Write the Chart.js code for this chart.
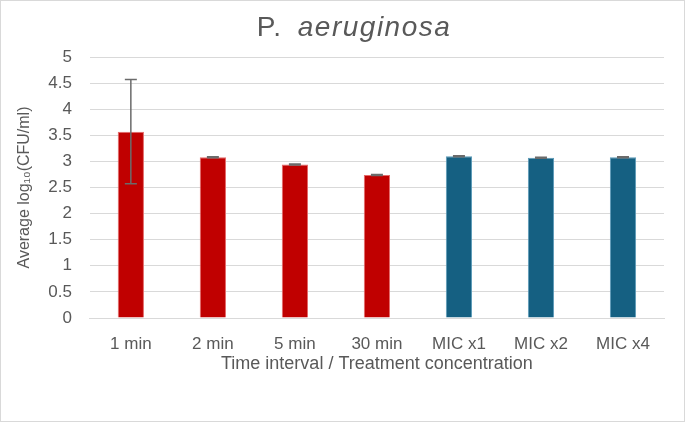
<!DOCTYPE html>
<html>
<head>
<meta charset="utf-8">
<script src="https://cdn.jsdelivr.net/npm/chart.js@4.4.1/dist/chart.umd.min.js"></script>
<style>
    html, body { margin: 0; padding: 0; background: #fff; }
    #wrap {
        width: 685px; height: 422px;
        box-sizing: border-box;
        border: 1px solid #d9d9d9;
        position: relative;
    }
</style>
</head>
<body>
<div id="wrap"><canvas id="chart"></canvas></div>
<script>
// Values
const categories = ['1 min', '2 min', '5 min', '30 min', 'MIC x1', 'MIC x2', 'MIC x4'];
const meanLog = [3.57, 3.08, 2.94, 2.74, 3.10, 3.07, 3.08];
const errLog = [1.0, 0.01, 0.01, 0.01, 0.01, 0.01, 0.01];
const barColors = ['#c00000', '#c00000', '#c00000', '#c00000', '#156082', '#156082', '#156082'];
const barEdges = ['#e46a6a', '#e46a6a', '#e46a6a', '#e46a6a', '#5b9ab8', '#5b9ab8', '#5b9ab8'];

const textColor = '#595959';

// Draw error bars with caps from the errLog array
const errorBarPlugin = {
    id: 'errorBars',
    afterDatasetsDraw: function (chart) {
        const ctx = chart.ctx;
        const meta = chart.getDatasetMeta(0);
        const yScale = chart.scales.y;
        ctx.save();
        ctx.strokeStyle = '#6b6b6b';
        ctx.lineWidth = 1.5;
        meta.data.forEach(function (bar, i) {
            const x = bar.x;
            const top = yScale.getPixelForValue(meanLog[i] + errLog[i]);
            const bottom = yScale.getPixelForValue(meanLog[i] - errLog[i]);
            const cap = 6;
            ctx.beginPath();
            ctx.moveTo(x, top);
            ctx.lineTo(x, bottom);
            ctx.moveTo(x - cap, top);
            ctx.lineTo(x + cap, top);
            ctx.moveTo(x - cap, bottom);
            ctx.lineTo(x + cap, bottom);
            ctx.stroke();
        });
        ctx.restore();
    }
};

// Title with the species name in italics
const titlePlugin = {
    id: 'mixedTitle',
    afterDraw: function (chart) {
        const ctx = chart.ctx;
        const part1 = 'P. ';
        const part2 = 'aeruginosa';
        const fontNormal = '28px "Liberation Sans"';
        const fontItalic = 'italic 28px "Liberation Sans"';
        ctx.save();
        ctx.fillStyle = textColor;
        ctx.textBaseline = 'middle';
        ctx.letterSpacing = '1.5px';
        ctx.font = fontNormal;
        const w1 = ctx.measureText(part1).width + 6;
        ctx.font = fontItalic;
        const w2 = ctx.measureText(part2).width;
        const cx = 353;
        const x = cx - (w1 + w2) / 2;
        const y = 27;
        ctx.font = fontNormal;
        ctx.fillText(part1, x, y);
        ctx.font = fontItalic;
        ctx.fillText(part2, x + w1, y);
        ctx.restore();
    }
};

const ctx = document.getElementById('chart').getContext('2d');
const chart = new Chart(ctx, {
    type: 'bar',
    data: {
        labels: categories,
        datasets: [{
            data: meanLog,
            backgroundColor: barColors,
            borderColor: barEdges,
            borderWidth: 1,
            barPercentage: 0.5,
            categoryPercentage: 0.64
        }]
    },
    options: {
        responsive: true,
        maintainAspectRatio: false,
        animation: false,
        layout: {
            padding: { top: 56, right: 20, bottom: 46, left: 14 }
        },
        plugins: {
            legend: { display: false },
            tooltip: { enabled: false },
            title: { display: false }
        },
        scales: {
            x: {
                grid: { display: false },
                border: { color: '#d9d9d9', width: 1 },
                ticks: {
                    color: textColor,
                    font: { family: 'Liberation Sans', size: 17 },
                    padding: 8
                },
                title: {
                    display: true,
                    text: 'Time interval / Treatment concentration',
                    color: textColor,
                    font: { family: 'Liberation Sans', size: 18 },
                    padding: { top: -9, bottom: 0 }
                }
            },
            y: {
                min: 0,
                max: 5,
                grid: { color: '#d9d9d9', lineWidth: 1, drawTicks: false },
                border: { display: false },
                ticks: {
                    stepSize: 0.5,
                    color: textColor,
                    font: { family: 'Liberation Sans', size: 17 },
                    padding: 18,
                    callback: function (value) { return String(value); }
                },
                title: {
                    display: true,
                    text: 'Average log\u2081\u2080(CFU/ml)',
                    color: textColor,
                    font: { family: 'Liberation Sans', size: 16 },
                    padding: { top: 0, bottom: -4 }
                }
            }
        }
    },
    plugins: [errorBarPlugin, titlePlugin]
});
</script>
</body>
</html>
